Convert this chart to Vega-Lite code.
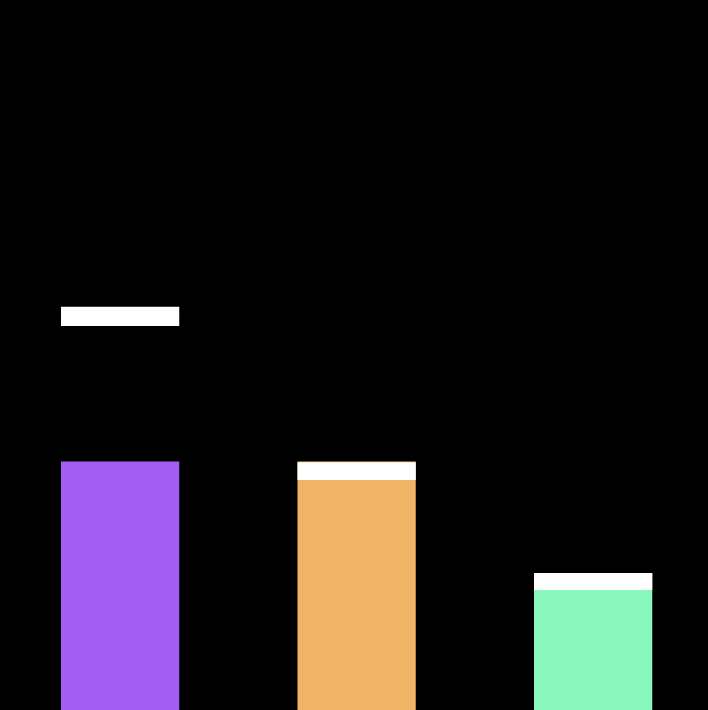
{
  "$schema": "https://vega.github.io/schema/vega-lite/v6.json",
  "width": 708,
  "height": 710,
  "autosize": {"type": "fit", "contains": "padding"},
  "padding": 0,
  "background": "#000000",
  "config": {"view": {"stroke": null}},
  "data": {
    "values": [
      {"cat": "A", "value": 35.0, "lo": 54.1, "hi": 56.8, "color": "#A25EF2"},
      {"cat": "B", "value": 35.0, "lo": 32.4, "hi": 34.9, "color": "#F1B366"},
      {"cat": "C", "value": 19.3, "lo": 16.9, "hi": 19.3, "color": "#8AF8BC"}
    ]
  },
  "encoding": {
    "x": {
      "field": "cat",
      "type": "nominal",
      "axis": null,
      "scale": {"paddingInner": 0.5, "paddingOuter": 0.2468, "align": 0.5225}
    }
  },
  "layer": [
    {
      "mark": {"type": "bar"},
      "encoding": {
        "y": {"field": "value", "type": "quantitative", "axis": null, "scale": {"domain": [0, 100], "nice": false}},
        "color": {"field": "color", "type": "nominal", "scale": null, "legend": null}
      }
    },
    {
      "mark": {"type": "bar", "color": "#FFFFFF"},
      "encoding": {
        "y": {"field": "lo", "type": "quantitative"},
        "y2": {"field": "hi"}
      }
    }
  ]
}
